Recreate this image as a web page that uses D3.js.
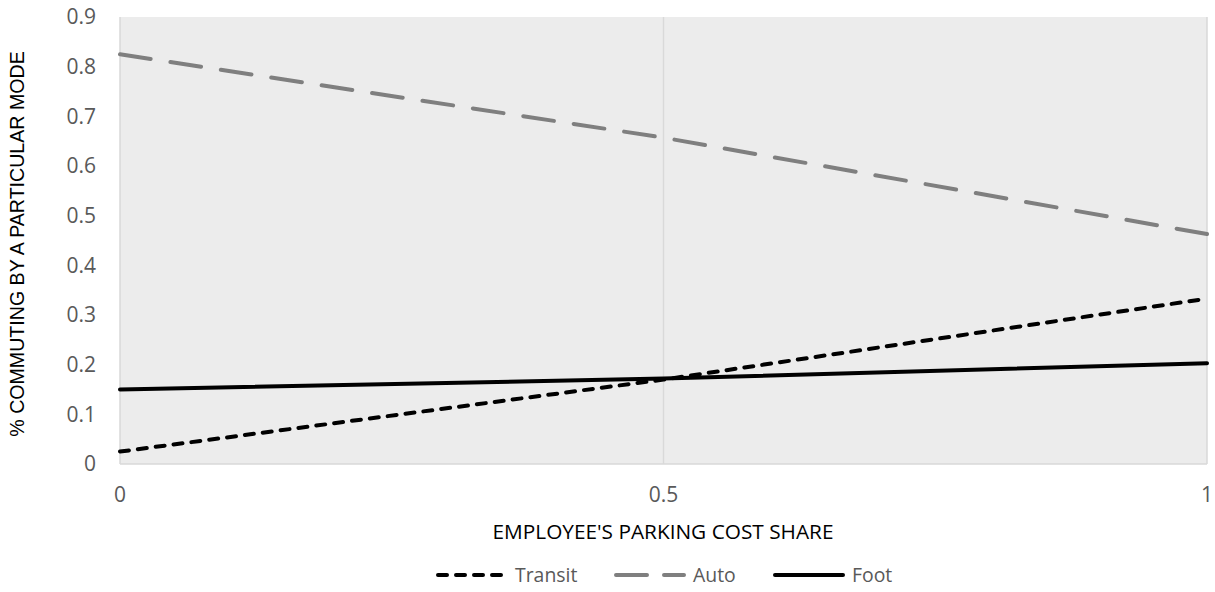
<!DOCTYPE html>
<html><head><meta charset="utf-8">
<script src="https://cdn.jsdelivr.net/npm/d3@7"></script>
<style>body{margin:0;background:#fff}svg{display:block}</style>
</head><body><svg id="c" width="1215" height="592"></svg>
<script>
const xValues = [0, 0.5, 1];
const transit = [0.025, 0.170, 0.333];
const auto = [0.825, 0.657, 0.463];
const foot = [0.150, 0.172, 0.203];
const yTicks = [0, 0.1, 0.2, 0.3, 0.4, 0.5, 0.6, 0.7, 0.8, 0.9];
const xTicks = [0, 0.5, 1];
const seriesNames = ["Transit", "Auto", "Foot"];

const svg = d3.select("#c");
const m = {l:120, r:1207, t:17, b:464};
const x = d3.scaleLinear().domain([0,1]).range([m.l, m.r]);
const y = d3.scaleLinear().domain([0,0.9]).range([m.b, m.t]);
const tickFont = "'Open Sans', Lato, sans-serif";

svg.append("rect").attr("x", m.l).attr("y", m.t).attr("width", m.r-m.l).attr("height", m.b-m.t).attr("fill", "#ececec");

// vertical gridlines
svg.append("g").selectAll("line").data(xTicks).join("line")
  .attr("x1", d=>x(d)).attr("x2", d=>x(d)).attr("y1", m.t).attr("y2", m.b)
  .attr("stroke", "#d9d9d9").attr("stroke-width", 1.5);
svg.append("line").attr("x1", m.l).attr("x2", m.r).attr("y1", m.b).attr("y2", m.b)
  .attr("stroke", "#d9d9d9").attr("stroke-width", 1.5);

// y tick labels
svg.append("g").selectAll("text").data(yTicks).join("text")
  .attr("x", 96).attr("y", d=>y(d)).attr("dy", "0.35em").attr("text-anchor", "end")
  .attr("font-family", tickFont).attr("font-size", 21).attr("fill", "#595959")
  .text(d=>d===0?"0":d3.format(".1f")(d));
// x tick labels
svg.append("g").selectAll("text").data(xTicks).join("text")
  .attr("x", d=>x(d)).attr("y", 495).attr("dy", "0.35em").attr("text-anchor", "middle")
  .attr("font-family", tickFont).attr("font-size", 21).attr("fill", "#595959")
  .text(d=>String(d));

// axis titles
svg.append("text").attr("x", 663).attr("y", 532).attr("dy", "0.35em").attr("text-anchor", "middle")
  .attr("font-family", tickFont).attr("font-size", 20.8).attr("fill", "#000")
  .text("EMPLOYEE'S PARKING COST SHARE");
svg.append("text").attr("transform", "translate(17,244) rotate(-90)").attr("dy", "0.35em").attr("text-anchor", "middle")
  .attr("font-family", "'Liberation Sans', Arial, sans-serif").attr("font-size", 19.6).attr("fill", "#000")
  .text("% COMMUTING BY A PARTICULAR MODE");

const styles = {
  Transit: {color:"#000", dash:"9,9", legDash:"9,9"},
  Auto: {color:"#7f7f7f", dash:"31,20", legDash:"31,17"},
  Foot: {color:"#000", dash:null, legDash:null}
};
const data = {Transit: transit, Auto: auto, Foot: foot};
const line = d3.line().x((d,i)=>x(xValues[i])).y(d=>y(d));
["Auto","Transit","Foot"].forEach(n=>{
  const s = styles[n];
  svg.append("path").attr("d", line(data[n])).attr("fill","none")
    .attr("stroke", s.color).attr("stroke-width", 4).attr("stroke-linecap", "round")
    .attr("stroke-dasharray", s.dash);
});

// legend
const legX = [438, 616, 775];
const lg = svg.append("g");
seriesNames.forEach((n,i)=>{
  const s = styles[n];
  lg.append("line").attr("x1", legX[i]).attr("x2", legX[i]+68).attr("y1", 575).attr("y2", 575)
    .attr("stroke", s.color).attr("stroke-width", 4).attr("stroke-linecap", "round")
    .attr("stroke-dasharray", s.legDash);
  lg.append("text").attr("x", legX[i]+77).attr("y", 575).attr("dy","0.35em")
    .attr("font-family", tickFont).attr("font-size", 19.4).attr("fill", "#595959").text(n);
});
</script></body></html>
